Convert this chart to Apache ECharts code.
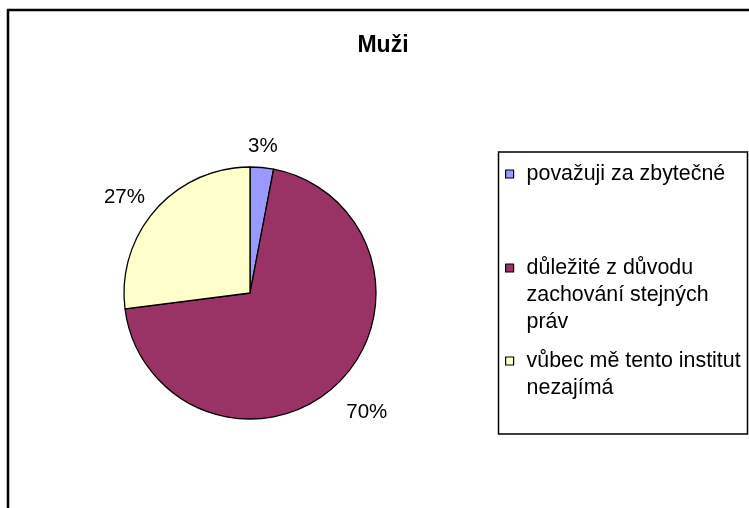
<!DOCTYPE html>
<html>
<head>
<meta charset="utf-8">
<script src="https://cdn.jsdelivr.net/npm/echarts@6/dist/echarts.min.js"></script>
<style>
  html, body { margin: 0; padding: 0; background: #fff; }
  #chart { width: 749px; height: 508px; }
</style>
</head>
<body>
<div id="chart"></div>
<script>
const categories = [
  "považuji za zbytečné",
  "důležité z důvodu zachování stejných práv",
  "vůbec mě tento institut nezajímá",
];
const values = [3, 70, 27];
const colors = ["#9999FF", "#993366", "#FFFFCC"];
// legend text as wrapped in the original
const legendLines = [
  ["považuji za zbytečné"],
  ["důležité z důvodu", "zachování stejných", "práv"],
  ["vůbec mě tento institut", "nezajímá"],
];

const FONT = "Liberation Sans, Arial, sans-serif";
const LINE = 27;
// icon centre of each legend entry -> legend top
const legendIconY = [174, 268, 361];

// small nudges so the % labels sit where Excel put them
const labelNudge = [
  { align: "center", dx: -6, dy: 1 },
  { dx: -10, dy: 11 },
  { dx: 11, dy: 2 },
];

const chart = echarts.init(document.getElementById("chart"), null, { renderer: "canvas" });

const legends = categories.map((name, i) => {
  const n = legendLines[i].length;
  return {
    orient: "vertical",
    left: 505,
    top: legendIconY[i] - (2 * n - 1) * LINE / 2,
    padding: 0,
    itemWidth: 8,
    itemHeight: 8,
    icon: "rect",
    selectedMode: false,
    data: [name],
    itemStyle: { borderColor: "#000", borderWidth: 1.2 },
    formatter: () => legendLines[i].map((s) => "{a|" + s + "}").join("\n"),
    textStyle: {
      fontFamily: FONT, fontSize: 21.4, color: "#000",
      lineHeight: LINE,
      padding: [(n - 1) * LINE, 0, 0, 8],
      rich: { a: { fontFamily: FONT, fontSize: 21.4, lineHeight: LINE, color: "#000" } },
    },
  };
});

chart.setOption({
  animation: false,
  backgroundColor: "#fff",
  title: {
    text: "Muži",
    left: 378, top: 29,
    textAlign: "center",
    textStyle: { fontFamily: FONT, fontSize: 23, fontWeight: "bold", color: "#000" },
  },
  graphic: [
    {
      type: "rect", silent: true,
      shape: { x: 8, y: 10, width: 800, height: 600 },
      style: { fill: null, stroke: "#000", lineWidth: 2.5 },
    },
    {
      type: "rect", silent: true,
      shape: { x: 498.5, y: 152, width: 249, height: 282 },
      style: { fill: null, stroke: "#000", lineWidth: 1.5 },
    },
  ],
  legend: legends,
  series: [{
    type: "pie",
    center: [250, 293],
    radius: 126,
    startAngle: 90,
    clockwise: true,
    color: colors,
    data: categories.map((name, i) => ({ name, value: values[i] })),
    itemStyle: { borderColor: "#000", borderWidth: 1.3 },
    emphasis: { disabled: true },
    label: {
      show: true,
      position: "outside",
      formatter: (p) => Math.round(p.percent) + "%",
      fontFamily: FONT, fontSize: 20.5, color: "#000",
    },
    labelLine: { show: false, length: 22, length2: 0 },
    labelLayout: (p) => labelNudge[p.dataIndex],
  }],
});
</script>
</body>
</html>
